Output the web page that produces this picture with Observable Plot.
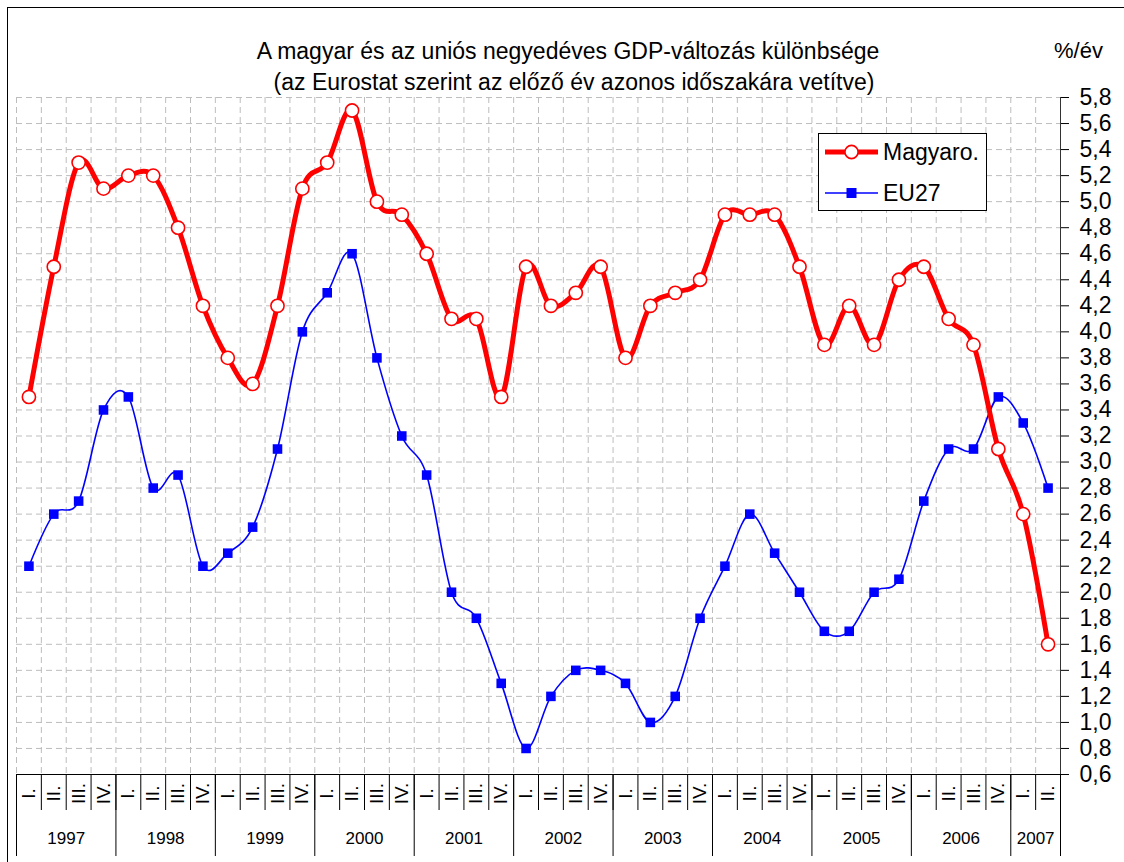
<!DOCTYPE html>
<html>
<head>
<meta charset="utf-8">
<script src="https://cdn.jsdelivr.net/npm/d3@7"></script>
<script src="https://cdn.jsdelivr.net/npm/@observablehq/plot@0.6"></script>
<style>
  html, body { margin: 0; padding: 0; background: #fff; }
  #wrap { position: relative; width: 1124px; height: 862px; overflow: hidden; font-family: "Liberation Sans", Arial, sans-serif; }
  #chart { position: absolute; left: 0; top: 0; }
  .t { position: absolute; white-space: nowrap; color: #000; line-height: 1; }
  #borderL { position: absolute; left: 7px; top: 7px; width: 1px; height: 855px; background: #000; }
  #borderT { position: absolute; left: 7px; top: 7px; width: 1117px; height: 1px; background: #000; }
</style>
</head>
<body>
<div id="wrap">
  <div id="chart"></div>
  <div id="borderL"></div>
  <div id="borderT"></div>
  <div class="t" id="title" style="left:568px; top:40px; transform:translateX(-50%); font-size:23px;">A magyar és az uniós negyedéves GDP-változás különbsége</div>
  <div class="t" id="subtitle" style="left:574px; top:71px; transform:translateX(-50%); font-size:23px;">(az Eurostat szerint az előző év azonos időszakára vetítve)</div>
  <div class="t" id="unit" style="left:1054px; top:40px; font-size:22px;">%/év</div>
  <div id="legend"></div>
</div>
<script>
// ---- data ----
const quarters = ["I.", "II.", "III.", "IV."];
const years = [1997, 1998, 1999, 2000, 2001, 2002, 2003, 2004, 2005, 2006, 2007];
const huValues = [3.5, 4.5, 5.3, 5.1, 5.2, 5.2, 4.8, 4.2, 3.8, 3.6, 4.2, 5.1, 5.3, 5.7, 5.0, 4.9,
                  4.6, 4.1, 4.1, 3.5, 4.5, 4.2, 4.3, 4.5, 3.8, 4.2, 4.3, 4.4, 4.9, 4.9, 4.9, 4.5,
                  3.9, 4.2, 3.9, 4.4, 4.5, 4.1, 3.9, 3.1, 2.6, 1.6];
const euValues = [2.2, 2.6, 2.7, 3.4, 3.5, 2.8, 2.9, 2.2, 2.3, 2.5, 3.1, 4.0, 4.3, 4.6, 3.8, 3.2,
                  2.9, 2.0, 1.8, 1.3, 0.8, 1.2, 1.4, 1.4, 1.3, 1.0, 1.2, 1.8, 2.2, 2.6, 2.3, 2.0,
                  1.7, 1.7, 2.0, 2.1, 2.7, 3.1, 3.1, 3.5, 3.3, 2.8];
const yTicks = [0.6, 0.8, 1.0, 1.2, 1.4, 1.6, 1.8, 2.0, 2.2, 2.4, 2.6, 2.8, 3.0, 3.2, 3.4, 3.6,
                3.8, 4.0, 4.2, 4.4, 4.6, 4.8, 5.0, 5.2, 5.4, 5.6, 5.8];
const seriesNames = ["Magyaro.", "EU27"];

// ---- derived tables ----
const data = huValues.map((v, i) => ({
  i, hu: v, eu: euValues[i], q: quarters[i % 4], year: years[Math.floor(i / 4)]
}));
const n = data.length;
const boundaries = d3.range(-0.5, n, 1);            // band edges
const yearInfo = years.map(y => {
  const idx = data.filter(d => d.year === y).map(d => d.i);
  return {year: y, start: d3.min(idx) - 0.5, end: d3.max(idx) + 0.5, mid: (d3.min(idx) + d3.max(idx)) / 2};
});
const yearEdges = Array.from(new Set(yearInfo.flatMap(d => [d.start, d.end])));
const yMin = yTicks[0], yMax = yTicks[yTicks.length - 1];

const RED = "#ff0000", BLUE = "#0000ff", GRID = "#bdbdbd";

const chart = Plot.plot({
  width: 1124,
  height: 862,
  marginLeft: 16,
  marginRight: 64,
  marginTop: 97,
  marginBottom: 88,
  style: {fontFamily: "'Liberation Sans', Arial, sans-serif", fontSize: "23px", color: "#000", background: "transparent", overflow: "visible"},
  x: {domain: [-0.5, n - 0.5], axis: null},
  y: {domain: [yMin, yMax], axis: "right", ticks: yTicks, tickSize: 8, tickPadding: 11,
      tickFormat: d => d.toFixed(1).replace(".", ","), label: null},
  marks: [
    // grid
    Plot.ruleY(yTicks.filter(v => v > yMin), {stroke: GRID, strokeDasharray: "6,4"}),
    Plot.ruleX(boundaries.slice(0, -1), {stroke: GRID, strokeDasharray: "6,4"}),
    // axes lines
    Plot.ruleX([n - 0.5], {stroke: "#333"}),
    Plot.ruleY([yMin], {stroke: "#000"}),
    // category separators below the axis
    Plot.ruleX(boundaries, {x: d => d, y1: () => yMin, y2: () => yMin, insetBottom: -36, stroke: "#000"}),
    Plot.ruleX(yearEdges, {x: d => d, y1: () => yMin, y2: () => yMin, insetBottom: -82, stroke: "#000"}),
    // quarter labels (rotated)
    Plot.text(data, {x: "i", frameAnchor: "bottom", text: "q", rotate: -90, dy: 19,
      textAnchor: "middle", lineAnchor: "middle", fontSize: 19, fill: "#000"}),
    // year labels
    Plot.text(yearInfo, {x: "mid", frameAnchor: "bottom", text: d => String(d.year), dy: 64,
      textAnchor: "middle", lineAnchor: "middle", fontSize: 17, fill: "#000"}),
    // EU27
    Plot.line(data, {x: "i", y: "eu", stroke: BLUE, strokeWidth: 1.6, curve: "cardinal", tension: 0}),
    Plot.dot(data, {x: "i", y: "eu", symbol: "square", r: 5.4, fill: BLUE, stroke: "none"}),
    // Magyaro.
    Plot.line(data, {x: "i", y: "hu", stroke: RED, strokeWidth: 5, curve: "cardinal", tension: 0}),
    Plot.dot(data, {x: "i", y: "hu", r: 6.6, fill: "#fff", stroke: RED, strokeWidth: 1.6})
  ]
});
document.getElementById("chart").appendChild(chart);

// ---- legend ----
const lg = d3.select("#legend").style("position", "absolute").style("left", "0px").style("top", "0px");
const lsvg = lg.append("svg").attr("width", 1124).attr("height", 862)
  .style("position", "absolute").style("left", "0px").style("top", "0px").style("pointer-events", "none");
lsvg.append("rect").attr("x", 818.5).attr("y", 133.5).attr("width", 168).attr("height", 77)
  .attr("fill", "#fff").attr("stroke", "#000").attr("stroke-width", 1);
// red entry
lsvg.append("line").attr("x1", 825).attr("x2", 878).attr("y1", 152).attr("y2", 152)
  .attr("stroke", RED).attr("stroke-width", 5);
lsvg.append("circle").attr("cx", 851.5).attr("cy", 152).attr("r", 6.6)
  .attr("fill", "#fff").attr("stroke", RED).attr("stroke-width", 1.6);
// blue entry
lsvg.append("line").attr("x1", 825).attr("x2", 878).attr("y1", 193).attr("y2", 193)
  .attr("stroke", BLUE).attr("stroke-width", 1.6);
lsvg.append("rect").attr("x", 846.5).attr("y", 188).attr("width", 10).attr("height", 10).attr("fill", BLUE);
lsvg.selectAll("text.lt").data(seriesNames).join("text")
  .attr("x", 883).attr("y", (d, k) => [160, 201][k])
  .attr("font-family", "'Liberation Sans', Arial, sans-serif").attr("font-size", 23)
  .attr("fill", "#000").text(d => d);
</script>
</body>
</html>
